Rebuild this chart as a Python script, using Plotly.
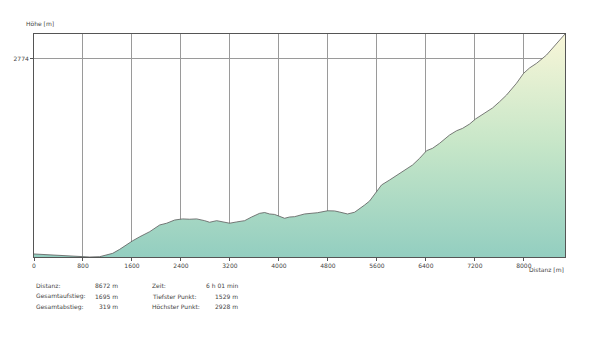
import plotly.graph_objects as go

distance_m = [0, 126, 256, 420, 583, 795, 909, 1073, 1187, 1285, 1399, 1514, 1612, 1727, 1890,
              2053, 2167, 2297, 2428, 2542, 2656, 2787, 2868, 2983, 3064, 3195, 3309, 3440,
              3554, 3685, 3767, 3848, 3930, 4011, 4093, 4175, 4256, 4419, 4631, 4795, 4909,
              4991, 5121, 5236, 5317, 5399, 5480, 5562, 5676, 5807, 5970, 6052, 6182, 6297,
              6411, 6509, 6623, 6786, 6901, 6999, 7113, 7211, 7358, 7489, 7603, 7717, 7880,
              7995, 8093, 8207, 8370, 8534, 8672]
elevation_m = [1548, 1545, 1540, 1537, 1534, 1531, 1529, 1531, 1542, 1552, 1577, 1609, 1631,
               1656, 1688, 1730, 1741, 1761, 1768, 1766, 1768, 1757, 1747, 1757, 1749, 1741,
               1749, 1757, 1780, 1803, 1808, 1799, 1796, 1786, 1772, 1780, 1782, 1799, 1807,
               1819, 1818, 1811, 1799, 1810, 1830, 1855, 1880, 1921, 1981, 2012, 2054, 2075,
               2106, 2148, 2196, 2211, 2242, 2294, 2321, 2336, 2363, 2395, 2432, 2464, 2503,
               2545, 2619, 2681, 2715, 2744, 2796, 2870, 2928]

x_ticks = [0, 800, 1600, 2400, 3200, 4000, 4800, 5600, 6400, 7200, 8000]
y_ticks = [2774]

stats_left = [("Distanz:", "8672 m"), ("Gesamtaufstieg:", "1695 m"), ("Gesamtabstieg:", "319 m")]
stats_right = [("Zeit:", "6 h 01 min"), ("Tiefster Punkt:", "1529 m"), ("Höchster Punkt:", "2928 m")]

W, H = 600, 343
L, R, T, B = 34.3, 565.3, 34, 257.3

fig = go.Figure()
fig.add_trace(go.Scatter(
    x=distance_m, y=elevation_m, mode="lines",
    line=dict(color="#5a5a5a", width=0.8),
    fill="tozeroy",
    fillgradient=dict(type="vertical", start=1529, stop=2928,
                      colorscale=[[0, "#93cec0"], [0.5, "#c6e6c8"], [1, "#f8f6d8"]]),
    hoverinfo="skip", showlegend=False,
))

font_small = dict(family="DejaVu Sans", size=6, color="#444")

fig.update_layout(
    width=W, height=H,
    margin=dict(l=L, r=W - R, t=T, b=H - B, pad=0),
    plot_bgcolor="white", paper_bgcolor="white",
    xaxis=dict(range=[0, 8672], tickvals=x_ticks, ticktext=[str(v) for v in x_ticks],
               showgrid=True, gridcolor="#9a9a9a", gridwidth=0.7,
               showline=True, linecolor="#555", linewidth=1, mirror=True,
               ticks="outside", ticklen=3, tickcolor="#555", tickfont=font_small,
               zeroline=False),
    yaxis=dict(range=[1529, 2928], tickvals=y_ticks, ticktext=[str(v) for v in y_ticks],
               showgrid=True, gridcolor="#9a9a9a", gridwidth=0.7,
               showline=True, linecolor="#555", linewidth=1, mirror=True,
               ticks="outside", ticklen=3, tickcolor="#555", tickfont=font_small,
               zeroline=False),
)

anns = [
    dict(x=L - 10, y=23, text="Höhe [m]", xanchor="left", yanchor="middle"),
    dict(x=R + 1, y=270, text="Distanz [m]", xanchor="right", yanchor="middle"),
]
rows_y = [286, 296.5, 307]
for (lab, val), yy in zip(stats_left, rows_y):
    anns.append(dict(x=34, y=yy, text=lab, xanchor="left", yanchor="middle"))
    anns.append(dict(x=120, y=yy, text=val, xanchor="right", yanchor="middle"))
for (lab, val), yy in zip(stats_right, rows_y):
    anns.append(dict(x=150, y=yy, text=lab, xanchor="left", yanchor="middle"))
    anns.append(dict(x=240, y=yy, text=val, xanchor="right", yanchor="middle"))

fig.update_layout(annotations=[
    dict(xref="paper", yref="paper",
         x=(a["x"] - L) / (R - L), y=(B - a["y"]) / (B - T),
         text=a["text"], xanchor=a["xanchor"], yanchor=a["yanchor"],
         showarrow=False, font=font_small)
    for a in anns
])

fig.write_html("out.html")
